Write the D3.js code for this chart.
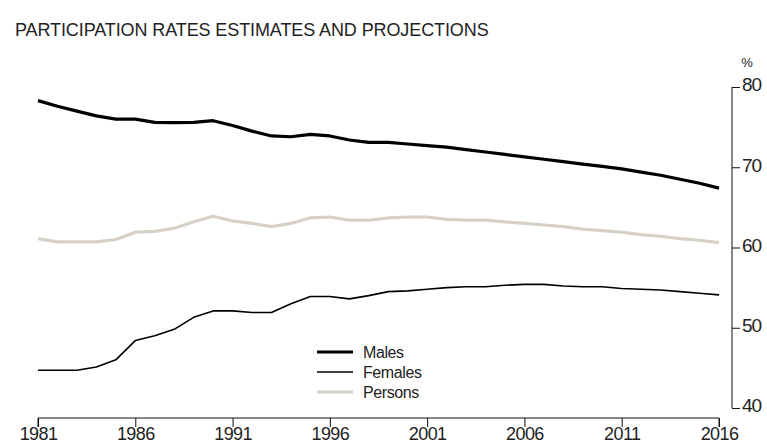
<!DOCTYPE html>
<html>
<head>
<meta charset="utf-8">
<script src="https://cdn.jsdelivr.net/npm/d3@7"></script>
<style>
  body { margin: 0; background: #fff; }
  text { font-family: "Liberation Sans", Arial, sans-serif; fill: #222; }
</style>
</head>
<body>
<svg id="svg" width="767" height="444"></svg>
<script>
// data
const years = d3.range(1981, 2017);
const males = [78.3, 77.6, 77.0, 76.4, 76.0, 76.0, 75.6, 75.55, 75.6, 75.8, 75.2, 74.5, 73.9, 73.8, 74.1, 73.9,
  73.4, 73.1, 73.1, 72.9, 72.7, 72.5, 72.2, 71.9, 71.6, 71.3, 71.0, 70.7, 70.4, 70.1, 69.8, 69.4, 69.0, 68.5, 68.0, 67.4];
const females = [44.7, 44.7, 44.7, 45.1, 46.0, 48.4, 49.0, 49.8, 51.3, 52.1, 52.1, 51.9, 51.9, 53.0, 53.9, 53.9,
  53.6, 54.0, 54.5, 54.6, 54.8, 55.0, 55.1, 55.1, 55.3, 55.4, 55.4, 55.2, 55.1, 55.1, 54.9, 54.8, 54.7, 54.5, 54.3, 54.1];
const persons = [61.1, 60.7, 60.7, 60.7, 61.0, 61.9, 62.0, 62.4, 63.2, 63.9, 63.3, 63.0, 62.6, 63.0, 63.7, 63.8,
  63.4, 63.4, 63.7, 63.8, 63.8, 63.5, 63.4, 63.4, 63.2, 63.0, 62.8, 62.6, 62.3, 62.1, 61.9, 61.6, 61.4, 61.1, 60.9, 60.6];
const xTicks = [1981, 1986, 1991, 1996, 2001, 2006, 2011, 2016];
const yTicks = [40, 50, 60, 70, 80];

const svg = d3.select("#svg");

// scales
const x = d3.scaleLinear().domain([1981, 2016]).range([38, 719]);
const y = d3.scaleLinear().domain([40, 80]).range([408, 87]);

// title
svg.append("text")
  .attr("x", 15).attr("y", 36)
  .style("font-size", "18px")
  .style("letter-spacing", "-0.1px")
  .text("PARTICIPATION RATES ESTIMATES AND PROJECTIONS");

// x axis
const xAxis = svg.append("g")
  .attr("transform", "translate(0,418)")
  .call(d3.axisBottom(x).tickValues(xTicks).tickFormat(d3.format("d")).tickSize(9).tickPadding(0));
xAxis.select(".domain").attr("d", `M${x(1981)},9V0H${x(2016)}V9`).attr("stroke", "#111");
xAxis.selectAll(".tick line").attr("stroke", "#111");
xAxis.selectAll("text").style("font-size", "18px").style("letter-spacing", "-0.6px").attr("fill", "#222");

// y axis on the right
const yAxis = svg.append("g")
  .attr("transform", "translate(732,0)")
  .call(d3.axisRight(y).tickValues(yTicks).tickSize(8).tickPadding(2));
yAxis.select(".domain").attr("d", `M0,${y(80)}V${y(40)}`).attr("stroke", "#111");
yAxis.selectAll(".tick line").attr("stroke", "#111");
yAxis.selectAll("text").style("font-size", "19px").style("letter-spacing", "-1px").attr("fill", "#222").attr("dy", "0.2em");

svg.append("text")
  .attr("x", 747).attr("y", 67)
  .attr("text-anchor", "middle")
  .style("font-size", "13px")
  .text("%");

// lines
const series = [
  { name: "Males", values: males, color: "#000", width: 3.2 },
  { name: "Females", values: females, color: "#000", width: 1.6 },
  { name: "Persons", values: persons, color: "#d6d0c6", width: 3.2 }
];

const line = d3.line()
  .x((d, i) => x(years[i]))
  .y(d => y(d));

svg.append("g").selectAll("path")
  .data(series.slice().reverse())
  .enter()
  .append("path")
  .attr("d", d => line(d.values))
  .attr("fill", "none")
  .attr("stroke", d => d.color)
  .attr("stroke-width", d => d.width)
  .attr("stroke-linejoin", "round");

// legend
const legend = svg.append("g").attr("transform", "translate(317,352)");
const item = legend.selectAll("g")
  .data(series)
  .enter()
  .append("g")
  .attr("transform", (d, i) => `translate(0,${i * 20})`);
item.append("line")
  .attr("x1", 0).attr("x2", 36)
  .attr("stroke", d => d.color)
  .attr("stroke-width", d => d.width);
item.append("text")
  .attr("x", 46).attr("dy", "0.36em")
  .style("font-size", "16px")
  .style("letter-spacing", "-0.4px")
  .attr("fill", "#333")
  .text(d => d.name);
</script>
</body>
</html>
